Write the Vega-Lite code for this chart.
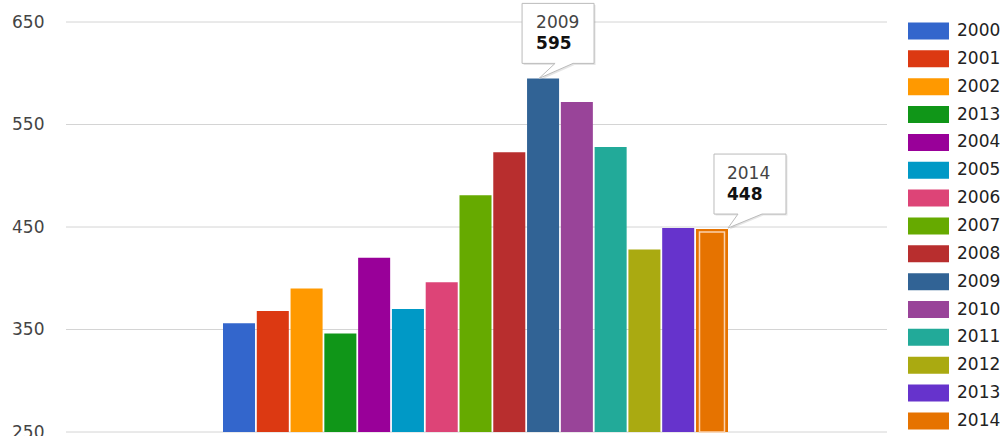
{
  "$schema": "https://vega.github.io/schema/vega-lite/v6.json",
  "width": 821,
  "height": 410,
  "autosize": "none",
  "padding": {"left": 66, "top": 22, "right": 119, "bottom": 4},
  "background": "white",
  "config": {"view": {"stroke": null}, "font": "DejaVu Sans"},
  "data": {"values": [
    {"key": 1, "year": "2000", "value": 356},
    {"key": 2, "year": "2001", "value": 368},
    {"key": 3, "year": "2002", "value": 390},
    {"key": 4, "year": "2013", "value": 346},
    {"key": 5, "year": "2004", "value": 420},
    {"key": 6, "year": "2005", "value": 370},
    {"key": 7, "year": "2006", "value": 396},
    {"key": 8, "year": "2007", "value": 481},
    {"key": 9, "year": "2008", "value": 523},
    {"key": 10, "year": "2009", "value": 595},
    {"key": 11, "year": "2010", "value": 572},
    {"key": 12, "year": "2011", "value": 528},
    {"key": 13, "year": "2012", "value": 428},
    {"key": 14, "year": "2013", "value": 449},
    {"key": 15, "year": "2014", "value": 448}
  ]},
  "layer": [
    {
      "data": {"values": [{"tick": 250}, {"tick": 350}, {"tick": 450}, {"tick": 550}, {"tick": 650}]},
      "mark": {"type": "rule", "color": "#d4d4d4", "strokeWidth": 1},
      "encoding": {
        "y": {"field": "tick", "type": "quantitative", "scale": {"domain": [250, 650], "nice": false, "zero": false},
          "axis": {"values": [250, 350, 450, 550, 650], "title": null, "domain": false, "ticks": false, "tickSize": 0, "grid": false,
            "labelPadding": 22, "labelFontSize": 17, "labelColor": "#444444", "labelFont": "DejaVu Sans"}}
      }
    },
    {
      "mark": {"type": "bar"},
      "encoding": {
        "x": {"field": "key", "type": "ordinal", "scale": {"range": [157, 662], "paddingInner": 0.052, "paddingOuter": 0}, "axis": null},
        "y": {"field": "value", "type": "quantitative", "title": null},
        "y2": {"datum": 250},
        "color": {"field": "key", "type": "ordinal",
          "scale": {"range": ["#3366cc", "#dc3912", "#ff9900", "#109618", "#990099", "#0099c6", "#dd4477", "#66aa00", "#b82e2e", "#316395", "#994499", "#22aa99", "#aaaa11", "#6633cc", "#e67300"]},
          "legend": {"orient": "none", "legendX": 852, "legendY": -1.5, "title": null, "padding": 0,
            "symbolType": "M-2,-0.83H2V0.83H-2Z", "symbolSize": 420, "symbolStrokeWidth": 0, "symbolOpacity": 1,
            "labelOffset": 18, "labelFontSize": 17, "labelColor": "#222222", "labelFont": "DejaVu Sans", "rowPadding": 7.85,
            "labelExpr": "['2000','2001','2002','2013','2004','2005','2006','2007','2008','2009','2010','2011','2012','2013','2014'][datum.value - 1]"}}
      }
    },
    {
      "transform": [{"filter": "datum.key == 15"}],
      "mark": {"type": "bar", "filled": false, "stroke": "#fcd2ad", "strokeWidth": 1.5, "size": 25, "yOffset": 3},
      "encoding": {
        "x": {"field": "key", "type": "ordinal"},
        "y": {"field": "value", "type": "quantitative"},
        "y2": {"datum": 250}
      }
    },
    {
      "transform": [{"filter": "datum.key == 10"}],
      "layer": [
        {"mark": {"type": "point", "shape": "M-21,-75H51V-15H30L-4,0L12,-15H-21Z", "size": 4, "filled": true, "fill": "#000000", "opacity": 0.1, "strokeWidth": 0, "xOffset": 1.5, "yOffset": 1.5},
          "encoding": {"x": {"field": "key", "type": "ordinal"}, "y": {"field": "value", "type": "quantitative"}}},
        {"mark": {"type": "point", "shape": "M-21,-75H51V-15H30L-4,0L12,-15H-21Z", "size": 4, "filled": true, "fill": "#ffffff", "stroke": "#bbbbbb", "strokeWidth": 1, "opacity": 1},
          "encoding": {"x": {"field": "key", "type": "ordinal"}, "y": {"field": "value", "type": "quantitative"}}},
        {"mark": {"type": "text", "align": "left", "baseline": "alphabetic", "dx": -7, "dy": -50, "fontSize": 17, "fill": "#444444"},
          "encoding": {"x": {"field": "key", "type": "ordinal"}, "y": {"field": "value", "type": "quantitative"}, "text": {"field": "year"}}},
        {"mark": {"type": "text", "align": "left", "baseline": "alphabetic", "dx": -7, "dy": -29, "fontSize": 17, "fontWeight": "bold", "fill": "#111111"},
          "encoding": {"x": {"field": "key", "type": "ordinal"}, "y": {"field": "value", "type": "quantitative"}, "text": {"field": "value", "type": "quantitative"}}}
      ]
    },
    {
      "transform": [{"filter": "datum.key == 15"}],
      "layer": [
        {"mark": {"type": "point", "shape": "M2,-75H74V-15H50L16,-1L26,-15H2Z", "size": 4, "filled": true, "fill": "#000000", "opacity": 0.1, "strokeWidth": 0, "xOffset": 1.5, "yOffset": 1.5},
          "encoding": {"x": {"field": "key", "type": "ordinal"}, "y": {"field": "value", "type": "quantitative"}}},
        {"mark": {"type": "point", "shape": "M2,-75H74V-15H50L16,-1L26,-15H2Z", "size": 4, "filled": true, "fill": "#ffffff", "stroke": "#bbbbbb", "strokeWidth": 1, "opacity": 1},
          "encoding": {"x": {"field": "key", "type": "ordinal"}, "y": {"field": "value", "type": "quantitative"}}},
        {"mark": {"type": "text", "align": "left", "baseline": "alphabetic", "dx": 15, "dy": -50, "fontSize": 17, "fill": "#444444"},
          "encoding": {"x": {"field": "key", "type": "ordinal"}, "y": {"field": "value", "type": "quantitative"}, "text": {"field": "year"}}},
        {"mark": {"type": "text", "align": "left", "baseline": "alphabetic", "dx": 15, "dy": -29, "fontSize": 17, "fontWeight": "bold", "fill": "#111111"},
          "encoding": {"x": {"field": "key", "type": "ordinal"}, "y": {"field": "value", "type": "quantitative"}, "text": {"field": "value", "type": "quantitative"}}}
      ]
    }
  ]
}
